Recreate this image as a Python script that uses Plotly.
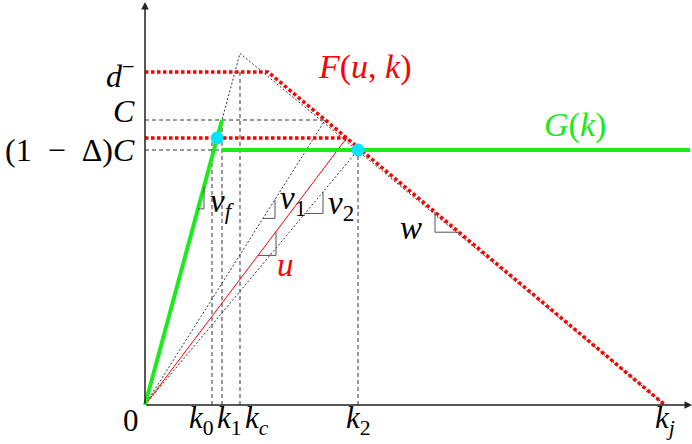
import plotly.graph_objects as go

# values (density k, flow q), arbitrary units
k_ticks = [0, 67, 77, 95, 213, 520]          # 0, k0, k1, kc, k2, kj
k_labels = ["0", "<i>k</i><sub>0</sub>", "<i>k</i><sub>1</sub>", "<i>k</i><sub><i>c</i></sub>",
            "<i>k</i><sub>2</sub>", "<i>k</i><sub><i>j</i></sub>"]
q_levels = [333, 285, 255]                   # d-, C, (1-Delta)C
q_labels = ["<i>d</i><sup>\u2212</sup>", "<i>C</i>",
            "(1\u00a0\u00a0\u2212\u00a0\u00a0\u0394)<i>C</i>"]
f_low = 267                                  # reduced supply level of F(u,k)
k_end = 545                                  # right end of G(k)

k0, k1, kc, k2, kj = k_ticks[1:]
d_minus, C, C_low = q_levels

vf = C / k1
w = d_minus / (kj - 123)                     # congested slope
k_d = kj - d_minus / w                       # where F leaves d-
peak = vf * kc
k_c_inter = kj - C / w                       # F meets C
k_f_inter = kj - f_low / w                   # F meets reduced level

GREEN = "#1aeb1a"
RED = "#ff0000"
GREY = "#333333"

fig = go.Figure()


def line(xs, ys, color, width, dash="solid"):
    fig.add_trace(go.Scatter(x=xs, y=ys, mode="lines", hoverinfo="skip",
                             line=dict(color=color, width=width, dash=dash)))


# helper dashed guides
line([0, k_c_inter], [C, C], GREY, 1, "4px,3px")
line([0, k1], [C_low, C_low], GREY, 1, "4px,3px")
line([k0, k0], [0, f_low], GREY, 1, "4px,3px")
line([k1, k1], [0, C], GREY, 1, "4px,3px")
line([kc, kc], [0, d_minus], GREY, 1, "4px,3px")
line([k2, k2], [0, C_low], GREY, 1, "4px,3px")

# dotted triangle and speed rays
line([0, kc, kj], [0, peak, 0], GREY, 1, "2px,2px")
line([0, k_c_inter], [0, C], GREY, 1, "2px,2px")
line([0, k2], [0, C_low], GREY, 1, "2px,2px")
line([0, k_f_inter], [0, f_low], RED, 1)

# F(u,k)
line([0, k_d, kj], [d_minus, d_minus, 0], RED, 3.5, "3.5px,2.5px")
line([0, k_f_inter], [f_low, f_low], RED, 3.5, "3.5px,2.5px")

# G(k)
line([0, k1], [0, C], GREEN, 4)
line([k1, k_end], [C_low, C_low], GREEN, 4)

# operating points
fig.add_trace(go.Scatter(x=[f_low / vf, k2], y=[f_low, C_low], mode="markers",
                         hoverinfo="skip", marker=dict(color="#00e5ff", size=13)))


# small slope markers
def slope_mark(slope, xa, dx):
    line([xa, xa + dx, xa + dx], [slope * xa, slope * xa, slope * (xa + dx)], "#555555", 1)


slope_mark(vf, 53, 6)
slope_mark(C / k_c_inter, 118, 12)
slope_mark(C_low / k2, 160, 18)
slope_mark(f_low / k_f_inter, 113, 18)
line([290, 290, 314], [d_minus - (290 - k_d) * w, d_minus - (314 - k_d) * w,
                       d_minus - (314 - k_d) * w], "#555555", 1)

FONT = "Liberation Serif"
ann = []


def txt(x, y, s, color="black", size=33, xanchor="center"):
    ann.append(dict(x=x, y=y, text=s, showarrow=False, xanchor=xanchor, yanchor="middle",
                    font=dict(family=FONT, size=size, color=color)))


# axis arrows
ann.append(dict(x=k_end + 2, y=0, ax=0, ay=0, xref="x", yref="y", axref="x", ayref="y",
                showarrow=True, arrowhead=2, arrowsize=1, arrowwidth=1.5, arrowcolor="#222", text=""))
ann.append(dict(x=0, y=403, ax=0, ay=0, xref="x", yref="y", axref="x", ayref="y",
                showarrow=True, arrowhead=2, arrowsize=1, arrowwidth=1.5, arrowcolor="#222", text=""))

k_label_x = [-14, 56, 84, 112, 213, 520]
for x, s in zip(k_label_x, k_labels):
    txt(x, -15, s, size=31)
q_label_y = [331, 294, 255]
for y, s in zip(q_label_y, q_labels):
    txt(-8, y, s, size=32, xanchor="right")

txt(220, 338, "<i>F</i>(<i>u</i>,\u00a0<i>k</i>)", RED, size=34)
txt(430, 280, "<i>G</i>(<i>k</i>)", GREEN, size=34)
txt(77, 202, "<i>v</i><sub><i>f</i></sub>")
txt(148, 205, "<i>v</i><sub>1</sub>")
txt(196, 200, "<i>v</i><sub>2</sub>")
txt(140, 140, "<i>u</i>", RED)
txt(266, 177, "<i>w</i>")

fig.update_layout(
    width=692, height=444, margin=dict(l=0, r=0, t=0, b=0),
    paper_bgcolor="white", plot_bgcolor="white", showlegend=False,
    xaxis=dict(range=[-145, 547], visible=False, fixedrange=True),
    yaxis=dict(range=[-39, 405], visible=False, fixedrange=True),
    annotations=ann,
)

fig.write_html("out.html", config={"displayModeBar": False},
               post_script="document.body.style.margin='0px';")
